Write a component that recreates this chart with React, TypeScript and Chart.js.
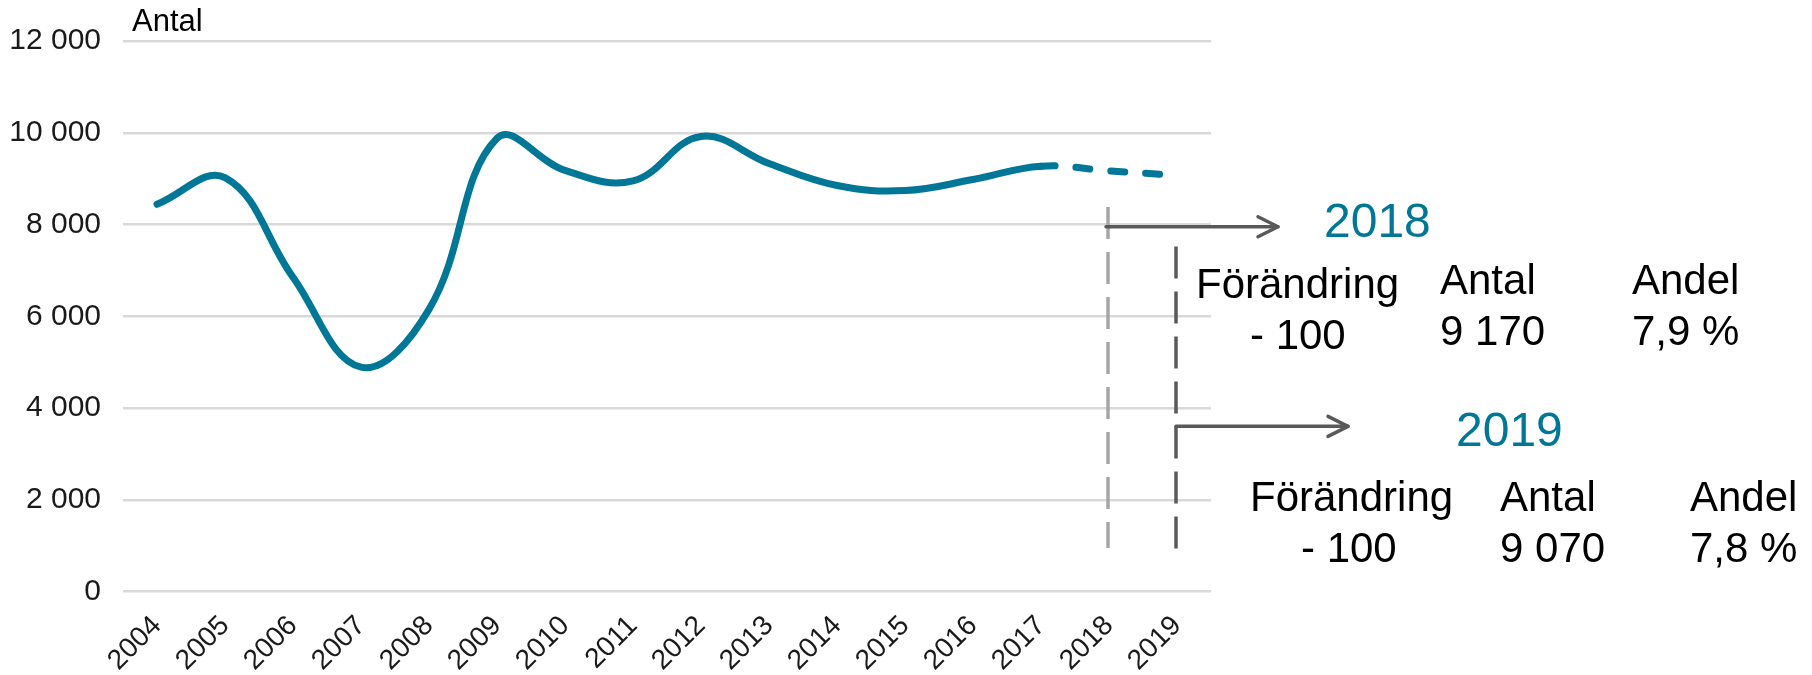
import React, { useEffect, useRef } from "react";
import { Chart, registerables } from "chart.js";

Chart.register(...registerables);

const years = ["2004", "2005", "2006", "2007", "2008", "2009", "2010", "2011", "2012", "2013", "2014", "2015", "2016", "2017", "2018", "2019"];
const antal = [8440, 9020, 6850, 4890, 6150, 9880, 9180, 8950, 9920, 9330, 8850, 8740, 8980, 9270, 9170, 9070];
const forecastFrom = 13; // index of 2017: dashed after this

const yTicks = [0, 2000, 4000, 6000, 8000, 10000, 12000];

const boxYears = ["2018", "2019"];
const boxForandring = ["- 100", "- 100"];
const boxAntal = ["9 170", "9 070"];
const boxAndel = ["7,9 %", "7,8 %"];
const headForandring = "Förändring";
const headAntal = "Antal";
const headAndel = "Andel";
const yTitle = "Antal";

const TEAL = "#007796";
const FONT = "'Liberation Sans', Arial, sans-serif";

const fmt = (v: number) => String(v).replace(/\B(?=(\d{3})+(?!\d))/g, " ");

const annotations = {
  id: "annotations",
  afterDraw(chart: any) {
    const ctx = chart.ctx as CanvasRenderingContext2D;
    const xs = chart.scales.x;
    const ys = chart.scales.y;
    const x18 = xs.getPixelForValue(14) - 1;
    const x19 = xs.getPixelForValue(15) - 1;
    ctx.save();

    // title
    ctx.fillStyle = "#000";
    ctx.font = `31px ${FONT}`;
    ctx.textBaseline = "alphabetic";
    ctx.textAlign = "left";
    ctx.fillText(yTitle, 132, 31);

    // vertical dashed lines
    ctx.lineCap = "butt";
    ctx.setLineDash([32, 13]);
    ctx.lineWidth = 3.5;
    ctx.strokeStyle = "#a6a6a6";
    ctx.beginPath();
    ctx.moveTo(x18, ys.getPixelForValue(8380));
    ctx.lineTo(x18, ys.getPixelForValue(950));
    ctx.stroke();
    ctx.strokeStyle = "#595959";
    ctx.beginPath();
    ctx.moveTo(x19, ys.getPixelForValue(7520));
    ctx.lineTo(x19, ys.getPixelForValue(820));
    ctx.stroke();
    ctx.setLineDash([]);

    // arrows
    const arrow = (x0: number, y: number, x1: number) => {
      ctx.strokeStyle = "#595959";
      ctx.lineWidth = 3.5;
      ctx.lineCap = "round";
      ctx.lineJoin = "round";
      ctx.beginPath();
      ctx.moveTo(x0, y);
      ctx.lineTo(x1, y);
      ctx.stroke();
      ctx.beginPath();
      ctx.moveTo(x1 - 20, y - 10);
      ctx.lineTo(x1, y);
      ctx.lineTo(x1 - 20, y + 10);
      ctx.stroke();
    };
    arrow(x18 - 2, ys.getPixelForValue(7950), x18 + 170);
    arrow(x19, ys.getPixelForValue(3600), x19 + 172);

    // year labels
    ctx.fillStyle = TEAL;
    ctx.font = `48px ${FONT}`;
    ctx.fillText(boxYears[0], 1324, 237);
    ctx.fillText(boxYears[1], 1456, 446);

    // info blocks
    ctx.fillStyle = "#000";
    ctx.font = `42px ${FONT}`;
    // 2018
    ctx.fillText(headForandring, 1196, 298);
    ctx.fillText(boxForandring[0], 1250, 349);
    ctx.fillText(headAntal, 1440, 294);
    ctx.fillText(boxAntal[0], 1440, 345);
    ctx.fillText(headAndel, 1632, 294);
    ctx.fillText(boxAndel[0], 1632, 345);
    // 2019
    ctx.fillText(headForandring, 1250, 511);
    ctx.fillText(boxForandring[1], 1301, 562);
    ctx.fillText(headAntal, 1500, 511);
    ctx.fillText(boxAntal[1], 1500, 562);
    ctx.fillText(headAndel, 1690, 511);
    ctx.fillText(boxAndel[1], 1690, 562);

    ctx.restore();
  },
};

export default function App() {
  const ref = useRef<HTMLCanvasElement | null>(null);
  useEffect(() => {
    if (!ref.current) return;
    const chart = new Chart(ref.current, {
      type: "line",
      data: {
        labels: years,
        datasets: [
          {
            data: antal,
            borderColor: TEAL,
            borderWidth: 7,
            borderCapStyle: "round",
            borderJoinStyle: "round",
            pointRadius: 0,
            tension: 0.4,
            fill: false,
            segment: {
              borderDash: (c: any) => (c.p0DataIndex >= forecastFrom ? [14, 21] : undefined),
            },
          } as any,
        ],
      },
      options: {
        animation: false,
        responsive: false,
        devicePixelRatio: 1,
        layout: { padding: { left: 0, right: 601, top: 41, bottom: 0 } },
        plugins: { legend: { display: false }, tooltip: { enabled: false }, title: { display: false } },
        scales: {
          x: {
            offset: true,
            grid: { display: false, drawTicks: false },
            border: { display: false },
            ticks: {
              autoSkip: false,
              maxRotation: 45,
              minRotation: 45,
              padding: 18,
              color: "#1a1a1a",
              font: { family: FONT, size: 28 },
            },
            afterFit: (s: any) => {
              s.height = 83.5;
            },
          },
          y: {
            min: 0,
            max: 12000,
            afterBuildTicks: (s: any) => {
              s.ticks = yTicks.map((v) => ({ value: v }));
            },
            grid: { color: "#d9d9d9", lineWidth: 2.5, drawTicks: false },
            border: { display: false },
            ticks: {
              padding: 22,
              color: "#1a1a1a",
              font: { family: FONT, size: 30 },
              callback: (v: any) => fmt(Number(v)),
            },
            afterFit: (s: any) => {
              s.width = 123;
            },
          },
        },
      },
      plugins: [annotations],
    });
    return () => chart.destroy();
  }, []);
  return (
    <div style={{ position: "fixed", left: 0, top: 0, width: 1812, height: 675, background: "#fff" }}>
      <canvas ref={ref} width={1812} height={675} style={{ width: 1812, height: 675, display: "block" }} />
    </div>
  );
}
